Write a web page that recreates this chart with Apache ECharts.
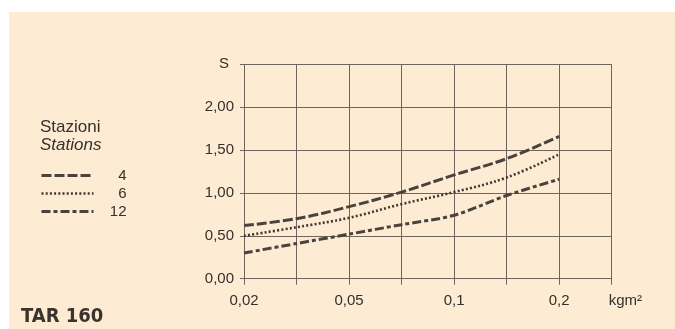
<!DOCTYPE html>
<html><head><meta charset="utf-8">
<script src="https://cdn.jsdelivr.net/npm/echarts@6/dist/echarts.min.js"></script>
<style>html,body{margin:0;padding:0;background:#fff}#c{width:675px;height:329px}</style>
</head><body><div id="c"></div>
<script>
// x positions are the evenly spaced grid columns of the printed chart
const xTickLabels = ['0,02', '', '0,05', '', '0,1', '', '0,2', ''];
const xPos = [0, 1, 2, 3, 4, 5, 6];
const seriesNames = ['4', '6', '12'];
const s4 = [0.62, 0.70, 0.84, 1.01, 1.21, 1.40, 1.66];
const s6 = [0.50, 0.60, 0.71, 0.87, 1.01, 1.18, 1.45];
const s12 = [0.30, 0.41, 0.52, 0.63, 0.74, 0.97, 1.16];
const yTop = 'S';

const ink = '#4a433d';
const gridC = '#6e665d';
const txt = '#35302b';
const font = 'Liberation Sans, Arial, sans-serif';

const styles = [
  { color: ink, width: 3, type: [10, 3] },
  { color: '#3f3833', width: 2.6, type: [2, 2.2] },
  { color: ink, width: 3, type: [9, 3, 4, 3] }
];

function pairs(ys) { return xPos.map((x, i) => [x, ys[i]]); }

const chart = echarts.init(document.getElementById('c'));
chart.setOption({
  backgroundColor: '#ffffff',
  animation: false,
  graphic: [
    { type: 'rect', z: -100, shape: { x: 9, y: 12, width: 666, height: 317 }, style: { fill: '#fdebd3' }, silent: true },
    { type: 'text', left: 21, top: 307, style: { text: 'TAR 160', fill: '#3b332d', font: 'bold 20px "Liberation Sans Narrow", "DejaVu Sans Condensed", Arial, sans-serif' } }
  ],
  title: {
    text: 'Stazioni', subtext: 'Stations', left: 40, top: 119, itemGap: 1, padding: 0,
    textStyle: { fontFamily: font, fontSize: 17, fontWeight: 'normal', color: txt },
    subtextStyle: { fontFamily: font, fontSize: 17, fontStyle: 'italic', color: txt }
  },
  legend: {
    orient: 'vertical', left: 40, top: 168, itemWidth: 52, itemHeight: 10, itemGap: 3,
    padding: 0,
    itemStyle: { opacity: 0 },
    data: seriesNames.map((n, i) => ({ name: n, lineStyle: styles[i], itemStyle: { opacity: 0 } })),
    formatter: '{a|{name}}',
    textStyle: { rich: { a: { width: 28, align: 'right', fontSize: 15, fontFamily: font, color: txt } } }
  },
  grid: { left: 244, right: 63.3, top: 64.3, bottom: 50.3 },
  xAxis: [{
    type: 'value', min: 0, max: 7, interval: 1,
    name: 'kgm²', nameLocation: 'end', nameGap: -3,
    nameTextStyle: { fontFamily: font, fontSize: 15, color: txt, verticalAlign: 'top', padding: [15, 0, 0, 0] },
    axisLine: { show: true, lineStyle: { color: gridC, width: 1 } },
    axisTick: { show: true, length: 6, lineStyle: { color: gridC } },
    axisLabel: { margin: 15, fontFamily: font, fontSize: 15, color: txt, formatter: v => xTickLabels[v] || '' },
    splitLine: { show: true, lineStyle: { color: gridC, width: 1 } }
  }, {
    type: 'value', min: 0, max: 7, interval: 1, position: 'top',
    axisLine: { show: false }, axisLabel: { show: false }, splitLine: { show: false },
    axisTick: { show: true, length: 7, lineStyle: { color: gridC } }
  }],
  yAxis: [{
    type: 'value', min: 0, max: 2.5, interval: 0.5,
    axisLine: { show: false },
    axisTick: { show: true, length: 4, lineStyle: { color: gridC } },
    axisLabel: { margin: 10, fontFamily: font, fontSize: 15, color: txt,
      formatter: v => v >= 2.5 ? '{s|' + yTop + '}' : v.toFixed(2).replace('.', ','),
      rich: { s: { fontFamily: font, fontSize: 15, color: txt, padding: [0, 5, 0, 0] } } },
    splitLine: { show: true, lineStyle: { color: gridC, width: 1 } }
  }, {
    type: 'value', min: 0, max: 2.5, interval: 0.5, position: 'right',
    axisLine: { show: false }, axisLabel: { show: false }, splitLine: { show: false },
    axisTick: { show: true, length: 3, lineStyle: { color: gridC } }
  }],
  series: [
    { name: seriesNames[0], type: 'line', data: pairs(s4), smooth: 0.4, symbol: 'none',
      lineStyle: styles[0], itemStyle: { color: ink } },
    { name: seriesNames[1], type: 'line', data: pairs(s6), smooth: 0.4, symbol: 'none',
      lineStyle: styles[1], itemStyle: { color: ink } },
    { name: seriesNames[2], type: 'line', data: pairs(s12), smooth: 0.3, symbol: 'none',
      lineStyle: styles[2], itemStyle: { color: ink } }
  ]
});
</script></body></html>
